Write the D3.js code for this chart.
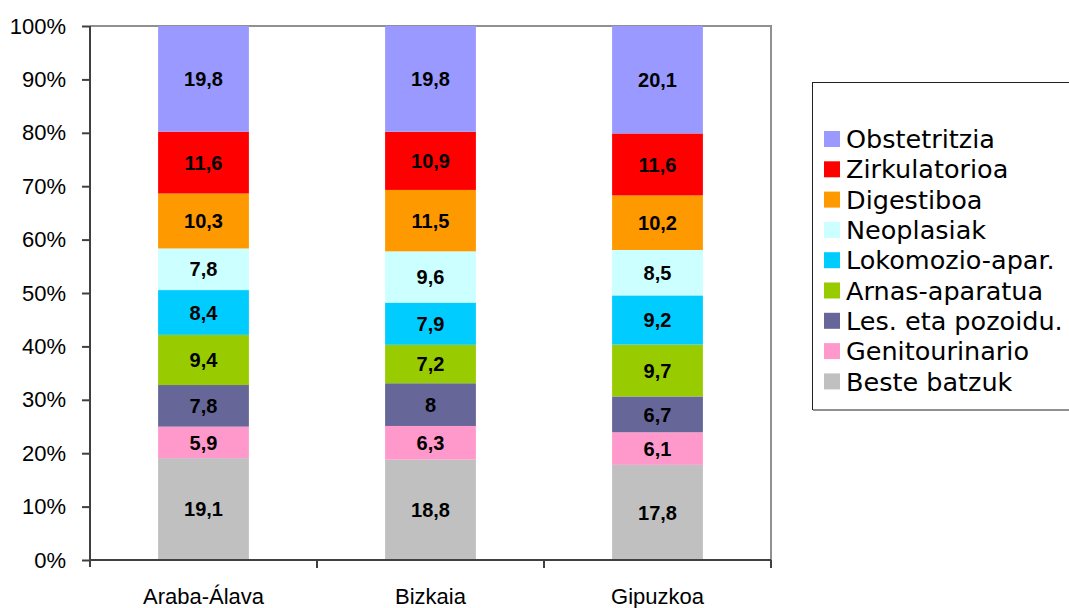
<!doctype html>
<html lang="eu">
<head>
<meta charset="UTF-8">
<title>Ospitale-altak gaixotasun taldeka</title>
<script src="https://cdn.jsdelivr.net/npm/d3@7"></script>
<style>
  body { margin: 0; background: #fff; }
  svg { display: block; }
  .tick text { font-family: "Liberation Sans", Arial, sans-serif; font-size: 22px; fill: #000; }
  .val { font-family: "Liberation Sans", Arial, sans-serif; font-size: 20px; font-weight: bold; fill: #000; }
  .legend text { font-family: "DejaVu Sans", Verdana, sans-serif; font-size: 25.5px; fill: #000; }
</style>
</head>
<body>
<svg id="chart" width="1069" height="608"></svg>
<script>
// data, bottom of the stack first
const regions = ["Araba-Álava", "Bizkaia", "Gipuzkoa"];
const groups = ["Beste batzuk", "Genitourinario", "Les. eta pozoidu.", "Arnas-aparatua",
                "Lokomozio-apar.", "Neoplasiak", "Digestiboa", "Zirkulatorioa", "Obstetritzia"];
const araba    = [19.1, 5.9, 7.8, 9.4, 8.4, 7.8, 10.3, 11.6, 19.8];
const bizkaia  = [18.8, 6.3, 8, 7.2, 7.9, 9.6, 11.5, 10.9, 19.8];
const gipuzkoa = [17.8, 6.1, 6.7, 9.7, 9.2, 8.5, 10.2, 11.6, 20.1];
const colors = ["#c0c0c0", "#ff99cc", "#666699", "#99cc00", "#00ccff",
                "#ccffff", "#ff9900", "#ff0000", "#9999ff"];
const yTicks = [0, 0.1, 0.2, 0.3, 0.4, 0.5, 0.6, 0.7, 0.8, 0.9, 1];

const series = [araba, bizkaia, gipuzkoa];
const svg = d3.select("#chart");
const plot = { left: 90, top: 26, right: 771, bottom: 560 };

const x = d3.scaleBand().domain(regions).range([plot.left, plot.right]).paddingInner(0.6).paddingOuter(0.3);
const xCat = d3.scaleBand().domain(regions).range([plot.left, plot.right]);
const y = d3.scaleLinear().domain([0, 1]).range([plot.bottom, plot.top]);

// build stacked rows (100% normalised)
const rows = regions.map((r, i) => {
  const o = { region: r };
  groups.forEach((g, j) => { o[g] = series[i][j]; });
  return o;
});
const stack = d3.stack().keys(groups).offset(d3.stackOffsetExpand)(rows);

// plot frame (top + right grey)
svg.append("path")
  .attr("d", `M${plot.left},${plot.top}H${plot.right}V${plot.bottom}`)
  .attr("fill", "none").attr("stroke", "#909090").attr("stroke-width", 2);

// bars
const layer = svg.selectAll(".layer").data(stack).enter().append("g")
  .attr("fill", (d, i) => colors[i]);
layer.selectAll("rect").data(d => d.map(v => ({ v, key: d.key }))).enter().append("rect")
  .attr("x", d => x(d.v.data.region))
  .attr("width", x.bandwidth())
  .attr("y", d => y(d.v[1]))
  .attr("height", d => y(d.v[0]) - y(d.v[1]));

// value labels
layer.selectAll("text").data(d => d.map(v => ({ v, key: d.key }))).enter().append("text")
  .attr("class", "val")
  .attr("x", d => x(d.v.data.region) + x.bandwidth() / 2)
  .attr("y", d => (y(d.v[0]) + y(d.v[1])) / 2)
  .attr("dy", "0.36em")
  .attr("text-anchor", "middle")
  .text(d => String(d.v.data[d.key]).replace(".", ","));

// y axis
const yAxis = svg.append("g").attr("transform", `translate(${plot.left},0)`)
  .call(d3.axisLeft(y).tickValues(yTicks).tickFormat(d3.format(".0%")).tickSizeOuter(0).tickSize(8).tickPadding(16));
yAxis.select(".domain").attr("stroke", "#404040").attr("stroke-width", 2)
  .attr("d", `M0,${plot.top}V${plot.bottom + 7}`);
yAxis.selectAll(".tick line").attr("stroke", "#404040").attr("stroke-width", 2);

// x axis: category labels, ticks at band boundaries
const xAxis = svg.append("g").attr("transform", `translate(0,${plot.bottom})`);
xAxis.append("line").attr("x1", plot.left).attr("x2", plot.right)
  .attr("stroke", "#404040").attr("stroke-width", 2);
xAxis.selectAll(".sep").data(regions.slice(1).map(r => xCat(r)).concat([plot.right])).enter()
  .append("line").attr("x1", d => d).attr("x2", d => d).attr("y1", 0).attr("y2", 8)
  .attr("stroke", "#404040").attr("stroke-width", 2);
xAxis.selectAll(".tick").data(regions).enter().append("g").attr("class", "tick")
  .append("text")
  .attr("x", d => xCat(d) + xCat.bandwidth() / 2)
  .attr("y", 44)
  .attr("text-anchor", "middle")
  .text(d => d);

// legend
const leg = svg.append("g").attr("class", "legend");
leg.append("rect").attr("x", 812.5).attr("y", 82.5).attr("width", 270).attr("height", 327)
  .attr("fill", "#fff").attr("stroke", "#202020").attr("stroke-width", 1);
leg.append("line").attr("x1", 813).attr("x2", 1069).attr("y1", 410).attr("y2", 410)
  .attr("stroke", "#909090").attr("stroke-width", 2);
const items = groups.slice().reverse();
const li = leg.selectAll(".item").data(items).enter().append("g")
  .attr("transform", (d, i) => `translate(824,${139 + i * 30.3})`);
li.append("rect").attr("x", 0).attr("y", -8).attr("width", 16).attr("height", 16)
  .attr("fill", d => colors[groups.indexOf(d)]);
li.append("text").attr("x", 22).attr("dy", "0.36em").text(d => d);
</script>
</body>
</html>
